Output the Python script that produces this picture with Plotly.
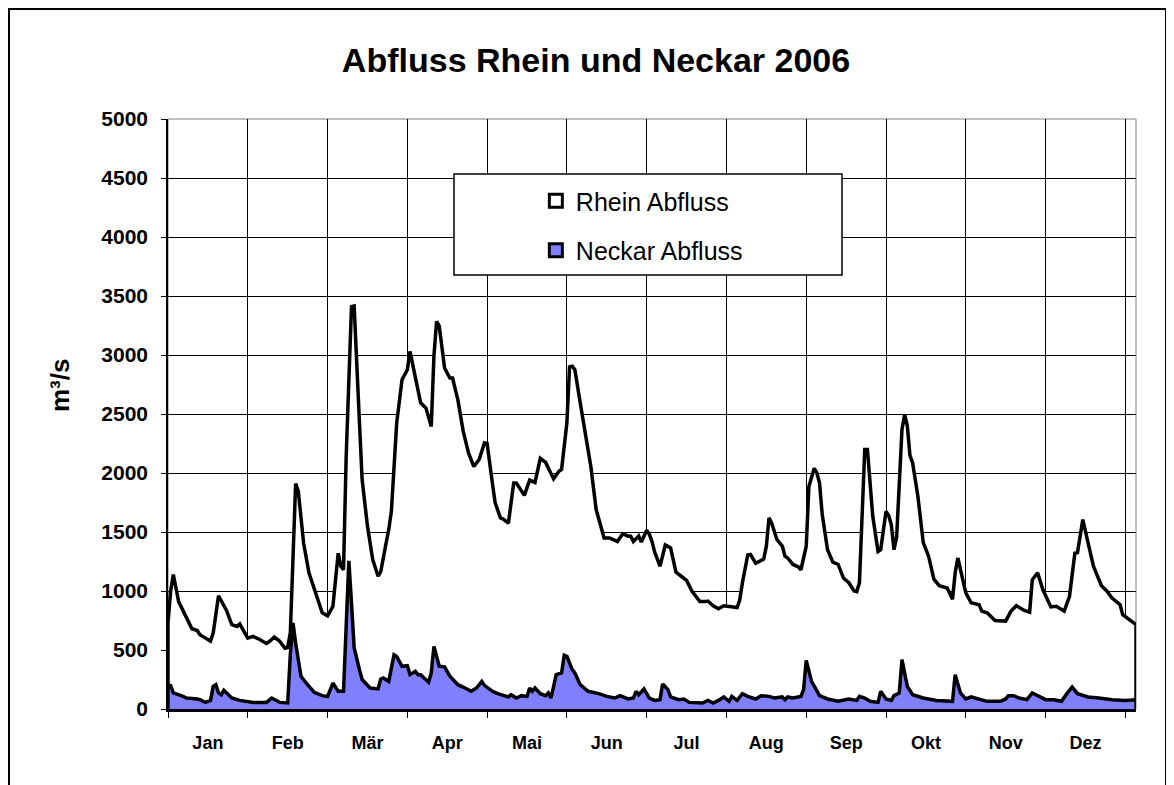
import plotly.graph_objects as go

# daily discharge 2006 (day of year, m3/s)
rhein_day = [0, 1, 2, 4, 6, 9, 11, 12, 16, 17, 19, 21, 22, 24, 26, 27, 30, 32, 34, 37, 38, 40, 42, 44, 45,
             46, 48, 49, 51, 53, 56, 58, 60, 62, 64, 65, 66, 67, 69, 70, 72, 73, 75, 77, 79, 80, 82, 83, 84,
             86, 88, 90, 91, 93, 95, 97, 99, 100, 101, 102, 104, 106, 107, 109, 111, 113, 115, 117, 119, 120,
             121, 122, 123, 125, 126, 128, 130, 131, 134, 135, 136, 138, 140, 142, 144, 145, 147, 148, 150,
             151, 152, 153, 155, 157, 159, 161, 164, 166, 169, 171, 173, 174, 175, 177, 178, 180, 181, 182,
             183, 185, 187, 189, 191, 193, 195, 197, 200, 202, 203, 205, 207, 209, 212, 214, 215, 216, 218,
             219, 221, 224, 225, 226, 227, 229, 231, 232, 233, 235, 237, 238, 240, 241, 243, 244, 245, 246,
             247, 248, 250, 252, 254, 256, 258, 259, 260, 262, 263, 265, 267, 268, 270, 271, 272, 273, 274,
             276, 277, 278, 279, 280, 282, 284, 286, 288, 290, 293, 295, 296, 297, 299, 300, 302, 305, 306,
             308, 311, 313, 315, 317, 319, 322, 324, 325, 327, 329, 332, 334, 337, 339, 341, 342, 344, 346,
             348, 351, 353, 355, 358, 359, 362, 364]
rhein_q = [730, 1000, 1140, 910, 815, 680, 665, 630, 575, 645, 960, 870, 835, 715, 700, 720, 600, 615, 595, 555, 570,
           610, 575, 515, 520, 645, 1910, 1845, 1405, 1155, 940, 815, 790, 870, 1320, 1210, 1180, 2140, 3410,
           3415, 2425, 1945, 1550, 1265, 1125, 1165, 1405, 1520, 1675, 2425, 2790, 2875, 3030, 2820, 2595, 2550,
           2395, 2990, 3285, 3245, 2890, 2805, 2805, 2620, 2355, 2170, 2055, 2115, 2255, 2250, 2100, 1910, 1750,
           1620, 1610, 1575, 1915, 1915, 1810, 1885, 1940, 1920, 2125, 2090, 2005, 1950, 2015, 2030, 2425, 2900,
           2905, 2875, 2595, 2340, 2055, 1690, 1450, 1450, 1420, 1485, 1465, 1465, 1420, 1465, 1415, 1515, 1480,
           1420, 1330, 1210, 1390, 1365, 1160, 1125, 1090, 1000, 910, 910, 915, 875, 850, 875, 870, 860, 925, 1070,
           1305, 1310, 1235, 1270, 1380, 1620, 1575, 1435, 1380, 1295, 1280, 1225, 1205, 1180, 1380, 1885, 2040,
           2000, 1915, 1650, 1500, 1350, 1245, 1225, 1110, 1070, 1000, 995, 1070, 2200, 2200, 1635, 1335, 1350,
           1675, 1640, 1560, 1350, 1460, 2370, 2495, 2400, 2150, 2085, 1800, 1410, 1295, 1100, 1045, 1025, 930,
           1155, 1280, 1070, 985, 900, 884, 830, 815, 750, 745, 745, 830, 875, 835, 820, 1095, 1155, 1010, 865,
           870, 830, 955, 1320, 1325, 1605, 1405, 1210, 1045, 1000, 940, 885, 800, 750, 715]

neckar_day = [0, 1, 2, 5, 7, 11, 12, 14, 16, 17, 18, 19, 20, 21, 24, 27, 32, 37, 39, 42, 45, 46, 47, 48, 50, 52,
              55, 58, 60, 62, 64, 66, 67, 68, 69, 70, 72, 73, 76, 79, 80, 81, 83, 85, 86, 88, 90, 91, 93, 94, 95,
              98, 99, 100, 102, 104, 106, 109, 111, 114, 116, 118, 119, 122, 124, 128, 129, 131, 133, 135, 136,
              137, 138, 140, 142, 143, 144, 146, 148, 149, 150, 152, 153, 155, 158, 162, 165, 168, 170, 173, 175,
              176, 177, 179, 181, 183, 185, 186, 188, 189, 192, 194, 196, 201, 203, 205, 207, 209, 211, 212, 214,
              216, 218, 221, 223, 226, 228, 231, 232, 233, 235, 238, 239, 240, 242, 244, 245, 248, 252, 256, 259,
              260, 262, 264, 267, 268, 270, 272, 273, 275, 276, 278, 280, 284, 289, 295, 296, 298, 300, 302, 305,
              308, 313, 315, 316, 318, 320, 323, 325, 328, 330, 333, 336, 338, 340, 342, 343, 346, 350, 355, 360,
              364]
neckar_q = [205, 198, 136, 113, 93, 85, 79, 56, 73, 192, 206, 136, 121, 158, 93, 73, 56, 56, 93, 56, 51, 460, 730,
            560, 277, 220, 141, 113, 105, 220, 150, 150, 800, 1255, 900, 520, 333, 250, 178, 170, 254, 263, 234,
            460, 446, 362, 367, 291, 319, 291, 291, 226, 305, 531, 362, 356, 277, 206, 186, 150, 178, 234, 200,
            150, 130, 102, 121, 93, 113, 107, 178, 150, 178, 130, 113, 136, 93, 291, 305, 455, 446, 333, 305, 206,
            150, 130, 107, 93, 113, 85, 93, 150, 121, 170, 93, 73, 79, 212, 164, 102, 79, 85, 56, 51, 73, 51, 73,
            102, 65, 107, 73, 130, 107, 85, 113, 107, 93, 102, 79, 102, 93, 107, 164, 412, 234, 150, 113, 85, 65,
            85, 73, 107, 93, 65, 56, 150, 85, 73, 113, 136, 418, 192, 121, 93, 73, 65, 291, 136, 85, 102, 85, 65,
            65, 85, 113, 113, 93, 79, 136, 102, 79, 79, 65, 130, 186, 130, 121, 102, 93, 79, 73, 79]

months = ['Jan', 'Feb', 'Mär', 'Apr', 'Mai', 'Jun', 'Jul', 'Aug', 'Sep', 'Okt', 'Nov', 'Dez']
month_pos = [15 + 30 * i for i in range(12)]

FONT = 'Arial, Liberation Sans, sans-serif'


def closed(days, vals):
    # close the area down to zero at both ends so the border is drawn like excel
    return [days[0]] + days + [days[-1]], [0] + vals + [0]


fig = go.Figure()

x, y = closed(rhein_day, rhein_q)
fig.add_trace(go.Scatter(x=x, y=y, mode='lines', fill='tozeroy', fillcolor='white',
                         line=dict(color='black', width=3.5), showlegend=False))
x, y = closed(neckar_day, neckar_q)
fig.add_trace(go.Scatter(x=x, y=y, mode='lines', fill='tozeroy', fillcolor='#8080FF',
                         line=dict(color='black', width=3.5), showlegend=False))

# legend entries as square markers
fig.add_trace(go.Scatter(x=[None], y=[None], mode='markers', name='Rhein Abfluss', legendgroup='a',
                         marker=dict(symbol='square', size=13, color='white', line=dict(color='black', width=3))))
fig.add_trace(go.Scatter(x=[None], y=[None], mode='markers', name='Neckar Abfluss', legendgroup='b',
                         marker=dict(symbol='square', size=13, color='#8080FF', line=dict(color='black', width=3))))

# the page puts the figure at (8, 8), so the pixel numbers below are reference pixels minus 8
fig.update_layout(
    width=1174, height=785, autosize=False,
    margin=dict(l=160, r=46, t=111, b=84),
    paper_bgcolor='white', plot_bgcolor='white',
    font=dict(family=FONT, color='black'),
    title=dict(text='<b>Abfluss Rhein und Neckar 2006</b>', font=dict(size=34, family=FONT, color='black'),
               x=588 / 1174, xref='container', xanchor='center', y=1 - 52 / 785, yref='container', yanchor='middle'),
    showlegend=True,
    legend=dict(x=0.38, y=0.9, xanchor='left', yanchor='top', bgcolor='rgba(0,0,0,0)',
                font=dict(size=25, family=FONT, color='black'), tracegroupgap=14, traceorder='grouped'),
    xaxis=dict(range=[0, 364], tickmode='array', tickvals=month_pos,
               ticktext=['<b>' + m + '</b>' for m in months], ticks='',
               showgrid=False, zeroline=False, showline=True, linecolor='black', linewidth=3,
               tickfont=dict(size=18, family=FONT), ticklabelstandoff=15,
               minor=dict(tick0=0, dtick=30, showgrid=True, gridcolor='black', gridwidth=1,
                          ticks='outside', ticklen=6, tickcolor='black')),
    yaxis=dict(range=[0, 5000], dtick=500, showgrid=True, gridcolor='black', gridwidth=1,
               zeroline=False, showline=True, linecolor='black', linewidth=1.5,
               ticks='outside', ticklen=5, tickcolor='black',
               tickfont=dict(size=21, family=FONT), ticklabelstandoff=9,
               tickformat='d', tickprefix='<b>', ticksuffix='</b>'),
    shapes=[
        # plot area border
        dict(type='rect', xref='paper', yref='paper', x0=0, x1=1, y0=0, y1=1,
             line=dict(color='#808080', width=1), layer='below'),
        # legend box
        dict(type='rect', xref='paper', yref='paper', x0=(454 - 168) / 968, x1=(842 - 168) / 968,
             y0=(709 - 275) / 590, y1=(709 - 174) / 590, fillcolor='white',
             line=dict(color='black', width=1.5), layer='above'),
        # chart area border
        dict(type='rect', xref='paper', yref='paper', x0=(9 - 168) / 968, x1=(1166 - 168) / 968,
             y0=(709 - 820) / 590, y1=(709 - 9) / 590, line=dict(color='black', width=2)),
    ],
    annotations=[
        dict(text='<b>m³/s</b>', xref='paper', yref='paper', x=(60 - 168) / 968, y=(709 - 386) / 590,
             textangle=-90, showarrow=False, font=dict(size=26, family=FONT, color='black'),
             xanchor='center', yanchor='middle'),
    ],
)

fig.write_html('out.html')
